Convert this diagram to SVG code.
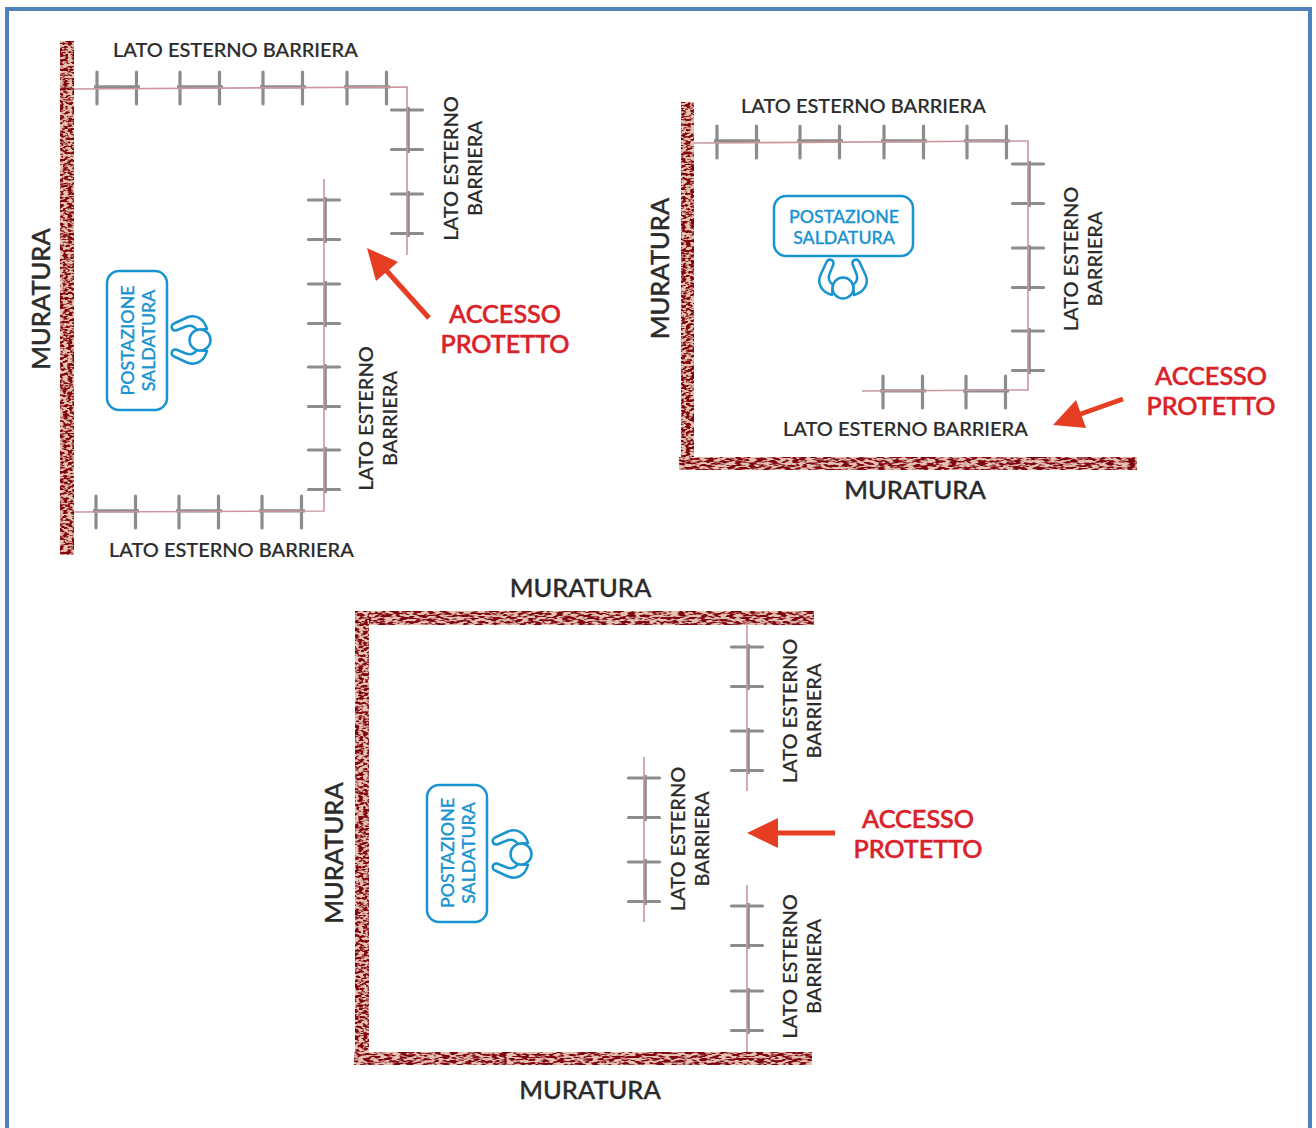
<svg xmlns="http://www.w3.org/2000/svg" width="1316" height="1128" viewBox="0 0 1316 1128">
<style>
text{font-family:Lato,"Liberation Sans",sans-serif}
.lab{font-size:20px;font-weight:500;fill:#2b2b2b;stroke:#2b2b2b;stroke-width:.2}
.mur{font-size:25.500px;font-weight:500;fill:#2b2b2b;stroke:#2b2b2b;stroke-width:.35}
.acc{font-size:25.200px;font-weight:500;fill:#d9222a;stroke:#d9222a;stroke-width:.55;text-anchor:middle}
.pos{font-size:17.800px;font-weight:500;fill:#1a94d0;stroke:#1a94d0;stroke-width:.3;text-anchor:middle}
.ctr{text-anchor:middle}
.box{fill:#fff;stroke:#1a94d0;stroke-width:2.5}
.pk{fill:none;stroke:#c9979e;stroke-width:1.6}
.tk{stroke:#8c8c8c;stroke-width:3.2;fill:none;stroke-linecap:round}
.br{stroke:#8c8c8c;stroke-width:3.2;fill:none}
.ar{fill:#e63e22}
.as{stroke:#e63e22;stroke-width:5;fill:none}
</style>
<defs>
<filter id="wv" x="0" y="0" width="100%" height="100%" color-interpolation-filters="sRGB">
<feTurbulence type="fractalNoise" baseFrequency="0.22 0.42" numOctaves="2" seed="4"/>
<feColorMatrix values="6 0 0 0 -2.450 6 0 0 0 -2.450 6 0 0 0 -2.450 0 0 0 0 1"/>
<feGaussianBlur stdDeviation="0.4"/>
<feComponentTransfer><feFuncR type="table" tableValues="0.50 0.90"/><feFuncG type="table" tableValues="0.02 0.76"/><feFuncB type="table" tableValues="0.06 0.70"/></feComponentTransfer>
<feComposite operator="in" in2="SourceAlpha"/>
</filter>
<filter id="wh" x="0" y="0" width="100%" height="100%" color-interpolation-filters="sRGB">
<feTurbulence type="fractalNoise" baseFrequency="0.14 0.46" numOctaves="2" seed="9"/>
<feColorMatrix values="6 0 0 0 -2.450 6 0 0 0 -2.450 6 0 0 0 -2.450 0 0 0 0 1"/>
<feGaussianBlur stdDeviation="0.4"/>
<feComponentTransfer><feFuncR type="table" tableValues="0.50 0.90"/><feFuncG type="table" tableValues="0.02 0.76"/><feFuncB type="table" tableValues="0.06 0.70"/></feComponentTransfer>
<feComposite operator="in" in2="SourceAlpha"/>
</filter>
<g id="ph"><path class="br" d="M-3-1.200H43"/><path class="tk" d="M0-16V16M39.500-16V16"/></g>
<g id="pv"><path class="br" d="M1.200-3V43"/><path class="tk" d="M-15.500 0H15.500M-15.500 39.500H15.500"/></g>
<g id="person">
<path id="arm" fill="#fff" stroke="#1a94d0" stroke-width="2.500" stroke-linejoin="round" d="M-24-9.500C-28.500-9-30-14.500-26-16.500L-13-22.500C-5-26 4-22 7-11L-3-10C-6-14-10-15-14-13.500Z"/>
<use href="#arm" transform="scale(1,-1)"/>
<circle r="10.500" fill="#fff" stroke="#1a94d0" stroke-width="2.500"/>
</g>
</defs>
<rect width="1316" height="1128" fill="#fff"/>
<rect id="frame" x="7" y="9" width="1303" height="1135" fill="none" stroke="#4f81bd" stroke-width="4"/>

<g id="walls">
<rect x="60" y="41" width="14" height="514" fill="#000" filter="url(#wv)"/>
<rect x="681" y="102" width="13" height="368" fill="#000" filter="url(#wv)"/>
<rect x="679" y="457" width="458" height="13" fill="#000" filter="url(#wh)"/>
<rect x="355" y="611" width="459" height="14" fill="#000" filter="url(#wh)"/>
<rect x="355" y="611" width="14" height="454" fill="#000" filter="url(#wv)"/>
<rect x="354" y="1052" width="458" height="13" fill="#000" filter="url(#wh)"/>
</g>

<g id="connectors">
<use href="#ph" x="97" y="88"/><use href="#ph" x="180" y="88"/><use href="#ph" x="263" y="88"/><use href="#ph" x="347" y="88"/>
<use href="#pv" x="407" y="110"/><use href="#pv" x="407" y="194"/>
<use href="#pv" x="324" y="200"/><use href="#pv" x="324" y="284"/><use href="#pv" x="324" y="367"/><use href="#pv" x="324" y="450"/>
<use href="#ph" x="96" y="512"/><use href="#ph" x="179" y="512"/><use href="#ph" x="262" y="512"/>
<use href="#ph" x="717" y="142"/><use href="#ph" x="800" y="142"/><use href="#ph" x="884" y="142"/><use href="#ph" x="967" y="142"/>
<use href="#pv" x="1028" y="164"/><use href="#pv" x="1028" y="248"/><use href="#pv" x="1028" y="331"/>
<use href="#ph" x="883" y="392"/><use href="#ph" x="966" y="392"/>
<use href="#pv" x="747" y="647"/><use href="#pv" x="747" y="731"/>
<use href="#pv" x="747" y="906"/><use href="#pv" x="747" y="991"/>
<use href="#pv" x="644" y="778"/><use href="#pv" x="644" y="862"/>
<path class="pk" d="M74 89L407 87V255"/>
<path class="pk" d="M324 179V511L74 512"/>
<path class="pk" d="M694 143L1028 141V390L862 391"/>
<path class="pk" d="M747 625V791M747 885V1052M644 757V922"/>
<path class="as" d="M429 318L385 269"/><polygon class="ar" points="367,248 398,262 376,281"/>
<path class="as" d="M1123 399L1075 416"/><polygon class="ar" points="1053,425 1076,400 1086,428"/>
<path class="as" d="M835 833H775"/><polygon class="ar" points="747,833 778,818 778,848"/>
</g>

<g id="station-1">
<rect class="box" x="107" y="271" width="60" height="139" rx="12"/>
<text class="pos" transform="translate(134,340.500) rotate(-90)">POSTAZIONE</text>
<text class="pos" transform="translate(155,340.500) rotate(-90)">SALDATURA</text>
<use href="#person" x="200" y="340"/>
</g>
<g id="station-2">
<rect class="box" x="774" y="196" width="139" height="60" rx="12"/>
<text class="pos" x="844" y="222.500">POSTAZIONE</text>
<text class="pos" x="844" y="243.500">SALDATURA</text>
<use href="#person" transform="translate(843,288) rotate(90)"/>
</g>
<g id="station-3">
<rect class="box" x="427" y="785" width="60" height="137" rx="12"/>
<text class="pos" transform="translate(454,853) rotate(-90)">POSTAZIONE</text>
<text class="pos" transform="translate(475,853) rotate(-90)">SALDATURA</text>
<use href="#person" x="521" y="854"/>
</g>

<g id="labels">
<text class="lab" x="113" y="57">LATO ESTERNO BARRIERA</text>
<text class="lab" x="109" y="557">LATO ESTERNO BARRIERA</text>
<text class="lab" x="741" y="113">LATO ESTERNO BARRIERA</text>
<text class="lab" x="783" y="436">LATO ESTERNO BARRIERA</text>
<text class="lab ctr" transform="translate(458,168.500) rotate(-90)">LATO ESTERNO</text>
<text class="lab ctr" transform="translate(482,168.500) rotate(-90)">BARRIERA</text>
<text class="lab ctr" transform="translate(373,418.500) rotate(-90)">LATO ESTERNO</text>
<text class="lab ctr" transform="translate(397,418.500) rotate(-90)">BARRIERA</text>
<text class="lab ctr" transform="translate(1078,259) rotate(-90)">LATO ESTERNO</text>
<text class="lab ctr" transform="translate(1102,259) rotate(-90)">BARRIERA</text>
<text class="lab ctr" transform="translate(797,711) rotate(-90)">LATO ESTERNO</text>
<text class="lab ctr" transform="translate(821,711) rotate(-90)">BARRIERA</text>
<text class="lab ctr" transform="translate(685,839) rotate(-90)">LATO ESTERNO</text>
<text class="lab ctr" transform="translate(709,839) rotate(-90)">BARRIERA</text>
<text class="lab ctr" transform="translate(797,966.500) rotate(-90)">LATO ESTERNO</text>
<text class="lab ctr" transform="translate(821,966.500) rotate(-90)">BARRIERA</text>
<text class="mur ctr" transform="translate(50,299) rotate(-90)">MURATURA</text>
<text class="mur ctr" transform="translate(669,268.500) rotate(-90)">MURATURA</text>
<text class="mur ctr" transform="translate(343,853) rotate(-90)">MURATURA</text>
<text class="mur ctr" x="915" y="499">MURATURA</text>
<text class="mur ctr" x="580.500" y="597">MURATURA</text>
<text class="mur ctr" x="590" y="1099">MURATURA</text>
<text class="acc" x="505" y="322.500">ACCESSO</text>
<text class="acc" x="505" y="352.500">PROTETTO</text>
<text class="acc" x="1211" y="384.500">ACCESSO</text>
<text class="acc" x="1211" y="414.500">PROTETTO</text>
<text class="acc" x="918" y="827.500">ACCESSO</text>
<text class="acc" x="918" y="857.500">PROTETTO</text>
</g>
</svg>
